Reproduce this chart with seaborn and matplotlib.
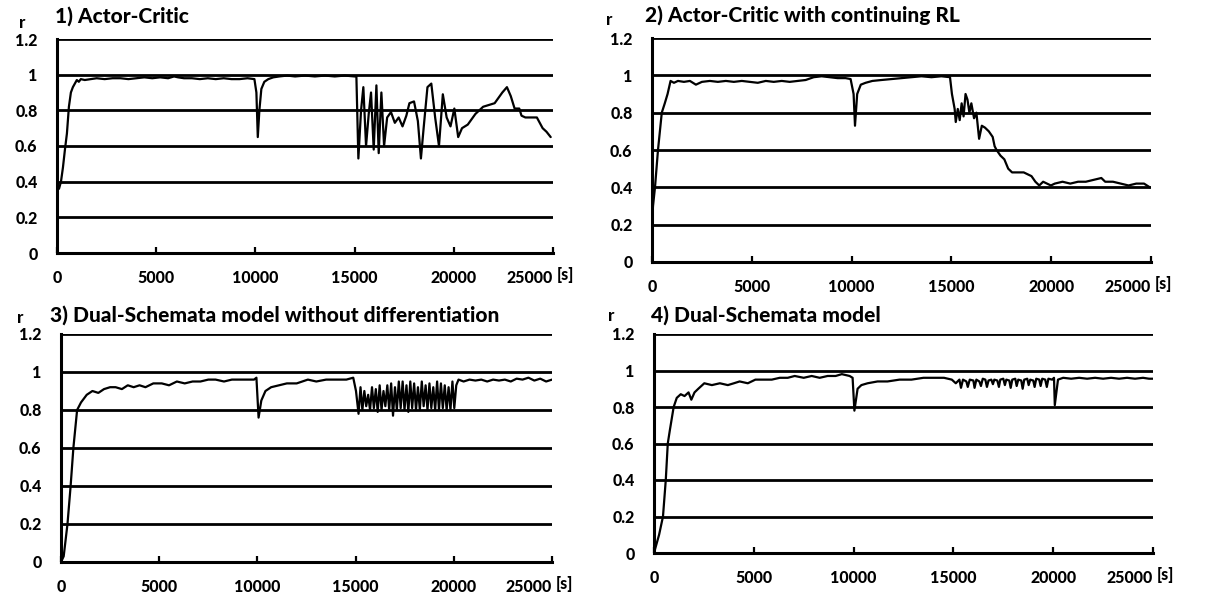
import numpy as np
import pandas as pd
import matplotlib
matplotlib.use("Agg")
import matplotlib.pyplot as plt
import seaborn as sns

# ---------------- data ----------------
titles = ["1) Actor-Critic",
          "2) Actor-Critic with continuing RL",
          "3) Dual-Schemata model without differentiation",
          "4) Dual-Schemata model"]

y_ticks = [0, 0.2, 0.4, 0.6, 0.8, 1.0, 1.2]
y_tick_labels = ["0", "0.2", "0.4", "0.6", "0.8", "1", "1.2"]
x_ticks = [0, 5000, 10000, 15000, 20000, 25000]
x_tick_labels = ["0", "5000", "10000", "15000", "20000", "25000"]

# 1) Actor-Critic
ac_t = [0, 30, 100, 200, 300, 400, 500, 600, 700, 800, 900, 1000, 1100, 1200, 1400,
        1700, 2000, 2400, 2800, 3200, 3600, 4000, 4400, 4800, 5200, 5600, 5900, 6100,
        6400, 6800, 7200, 7600, 8000, 8400, 8800, 9200, 9600, 9950, 10050, 10120, 10200,
        10300, 10450, 10650, 10900, 11200, 11600, 12000, 12500, 13000, 13500, 14000,
        14500, 15000,
        15090, 15190, 15325, 15441, 15577, 15712, 15828, 15963, 16099, 16215, 16350,
        16486, 16641, 16834, 17028, 17221, 17415, 17608, 17763, 17995, 18189, 18343,
        18479, 18672, 18866, 19060, 19253, 19447, 19640, 19834, 20027, 20221, 20414,
        20704, 21091, 21478, 22059, 22446, 22678, 22871, 23065, 23300, 23413, 23607,
        24187, 24477, 24671, 24884]
ac_r = [0.20, 0.38, 0.36, 0.40, 0.48, 0.58, 0.67, 0.82, 0.90, 0.93, 0.95, 0.97, 0.96, 0.975, 0.97,
        0.975, 0.98, 0.975, 0.98, 0.98, 0.975, 0.98, 0.985, 0.98, 0.985, 0.98, 0.99, 0.985,
        0.98, 0.98, 0.975, 0.98, 0.975, 0.98, 0.975, 0.975, 0.98, 0.975, 0.90, 0.65, 0.80,
        0.92, 0.96, 0.975, 0.985, 0.99, 0.995, 0.99, 0.995, 0.99, 0.995, 0.99,
        0.995, 0.99,
        0.99, 0.53, 0.80, 0.93, 0.60, 0.78, 0.90, 0.58, 0.94, 0.56, 0.90,
        0.60, 0.76, 0.79, 0.73, 0.76, 0.71, 0.77, 0.84, 0.85, 0.74, 0.53,
        0.70, 0.93, 0.95, 0.76, 0.60, 0.89, 0.76, 0.71, 0.81, 0.65, 0.70,
        0.72, 0.78, 0.82, 0.84, 0.90, 0.93, 0.88, 0.81, 0.81, 0.77, 0.76,
        0.76, 0.70, 0.68, 0.65]

# 2) Actor-Critic with continuing RL
acc_t = [0, 50, 150, 300, 490, 640, 780, 930, 1100, 1300, 1600, 1900, 2200, 2500, 2900,
         3300, 3700, 4100, 4500, 4900, 5300, 5700, 6100, 6500, 6900, 7300, 7700, 8100,
         8500, 8900, 9300, 9700, 9950, 10100, 10170, 10280, 10460, 10700, 11040, 11500,
         12000, 12500, 13000, 13500, 14000, 14500, 14930,
         15027, 15163, 15218, 15319, 15416, 15513, 15610, 15708, 15805, 15902, 15999,
         16135, 16252, 16388, 16524, 16680, 16874, 17068, 17166, 17263, 17457, 17652,
         17846, 18040, 18332, 18624, 18818, 19012, 19207, 19401, 19596, 19790, 19984,
         20179, 20568, 20956, 21345, 21734, 22123, 22512, 22706, 23095, 23484, 23873,
         24261, 24650, 24942]
acc_r = [0.20, 0.30, 0.40, 0.60, 0.80, 0.85, 0.90, 0.97, 0.96, 0.97, 0.965, 0.97, 0.95, 0.965, 0.97,
         0.965, 0.97, 0.965, 0.97, 0.965, 0.96, 0.97, 0.965, 0.97, 0.965, 0.97, 0.975, 0.99,
         0.995, 0.99, 0.985, 0.985, 0.98, 0.90, 0.73, 0.90, 0.95, 0.96, 0.97, 0.975,
         0.98, 0.985, 0.99, 0.995, 0.99, 0.995, 0.99,
         0.90, 0.82, 0.75, 0.82, 0.76, 0.85, 0.78, 0.90, 0.87, 0.80, 0.85,
         0.77, 0.80, 0.66, 0.73, 0.72, 0.70, 0.67, 0.62, 0.60, 0.57, 0.55,
         0.50, 0.48, 0.48, 0.48, 0.47, 0.46, 0.43, 0.41, 0.43, 0.42, 0.41,
         0.42, 0.43, 0.42, 0.43, 0.43, 0.44, 0.45, 0.43, 0.43, 0.42, 0.41,
         0.42, 0.42, 0.40]

# 3) Dual-Schemata model without differentiation
dsn_t = [0, 137, 330, 490, 630, 820, 1020, 1310, 1600, 1900, 2190, 2500, 2780, 3100, 3400,
         3700, 4000, 4300, 4700, 5130, 5500, 5900, 6300, 6700, 7100, 7500, 7870, 8300,
         8700, 9100, 9500, 9830, 9950, 10060, 10200, 10410, 10700, 11100, 11500, 12000,
         12570, 13000, 13500, 14000, 14530, 14880, 15020,
         15150, 15250, 15345, 15445, 15540, 15640, 15735, 15835, 15930, 16030, 16125,
         16225, 16320, 16420, 16515, 16615, 16710, 16810, 16905, 17005, 17100, 17200,
         17295, 17395, 17490, 17590, 17685, 17785, 17880, 17980, 18075, 18175, 18270,
         18370, 18465, 18565, 18660, 18760, 18855, 18955, 19050, 19150, 19245, 19345,
         19440, 19540, 19635, 19735, 19830, 19930, 20025, 20125,
         20240, 20500, 20800, 21100, 21400, 21700, 22000, 22300, 22600, 22900, 23200,
         23500, 23800, 24100, 24400, 24700, 25000]
dsn_r = [0.0, 0.03, 0.20, 0.40, 0.60, 0.80, 0.84, 0.88, 0.90, 0.89, 0.91, 0.92, 0.92, 0.91, 0.93,
         0.92, 0.93, 0.92, 0.94, 0.94, 0.93, 0.95, 0.94, 0.95, 0.95, 0.96, 0.96, 0.95,
         0.96, 0.96, 0.96, 0.96, 0.97, 0.76, 0.85, 0.90, 0.92, 0.93, 0.94, 0.94,
         0.96, 0.95, 0.96, 0.96, 0.96, 0.97, 0.90,
         0.78, 0.92, 0.80, 0.90, 0.82, 0.88, 0.80, 0.92, 0.81, 0.91, 0.79,
         0.93, 0.80, 0.90, 0.82, 0.93, 0.80, 0.94, 0.77, 0.92, 0.80, 0.95,
         0.81, 0.95, 0.80, 0.93, 0.79, 0.95, 0.81, 0.94, 0.80, 0.92, 0.80,
         0.95, 0.82, 0.93, 0.80, 0.94, 0.81, 0.92, 0.80, 0.95, 0.80, 0.94,
         0.81, 0.93, 0.80, 0.92, 0.80, 0.95, 0.81, 0.93,
         0.96, 0.95, 0.96, 0.955, 0.96, 0.95, 0.96, 0.955, 0.96, 0.95, 0.965,
         0.96, 0.97, 0.955, 0.965, 0.95, 0.96]

# 4) Dual-Schemata model
ds_t = [0, 255, 450, 590, 690, 790, 985, 1140, 1340, 1530, 1730, 1870, 2030, 2220, 2520,
        2900, 3300, 3700, 4000, 4290, 4700, 5080, 5500, 5900, 6300, 6700, 7050, 7500,
        7900, 8300, 8700, 9100, 9410, 9800, 9950, 10040, 10200, 10390, 10700, 11200,
        11700, 12300, 12900, 13500, 14000, 14530, 14920, 15120,
        15300, 15380, 15480, 15650, 15720, 15820, 16000, 16060, 16150, 16300, 16380,
        16470, 16600, 16680, 16760, 16900, 16980, 17050, 17200, 17280, 17350, 17500,
        17580, 17650, 17800, 17870, 17950, 18100, 18170, 18250, 18400, 18470, 18550,
        18700, 18770, 18850, 19000, 19070, 19150, 19300, 19370, 19450, 19600, 19680,
        19760, 19950,
        20040, 20080, 20240, 20500, 20900, 21300, 21700, 22100, 22500, 22900, 23300,
        23700, 24100, 24500, 24800, 25000]
ds_r = [0.0, 0.10, 0.20, 0.40, 0.60, 0.67, 0.80, 0.85, 0.87, 0.86, 0.88, 0.84, 0.88, 0.90, 0.93,
        0.92, 0.93, 0.92, 0.93, 0.94, 0.93, 0.95, 0.95, 0.95, 0.96, 0.96, 0.97, 0.96,
        0.97, 0.96, 0.97, 0.97, 0.98, 0.97, 0.96, 0.78, 0.90, 0.92, 0.93, 0.94,
        0.94, 0.95, 0.95, 0.96, 0.96, 0.96, 0.95, 0.93,
        0.95, 0.905, 0.95, 0.94, 0.91, 0.95, 0.945, 0.905, 0.95, 0.94, 0.915,
        0.955, 0.95, 0.91, 0.945, 0.95, 0.925, 0.95, 0.945, 0.91, 0.95, 0.955,
        0.92, 0.95, 0.945, 0.905, 0.95, 0.955, 0.915, 0.95, 0.945, 0.90, 0.95,
        0.955, 0.92, 0.95, 0.945, 0.91, 0.955, 0.95, 0.915, 0.955, 0.95, 0.91,
        0.955, 0.95,
        0.96, 0.81, 0.95, 0.96, 0.955, 0.96, 0.955, 0.96, 0.955, 0.96, 0.955,
        0.96, 0.955, 0.96, 0.955, 0.955]

series = [(ac_t, ac_r), (acc_t, acc_r), (dsn_t, dsn_r), (ds_t, ds_r)]

# ---------------- styling / layout ----------------
sns.set_theme(style="white")
plt.rcParams["font.family"] = ["Lato", "DejaVu Sans"]

W, H = 1211, 605
fig = plt.figure(figsize=(W / 100, H / 100), dpi=100)
fig.patch.set_facecolor("white")

# axes boxes in pixels: (left, top(=1.2), right(=25000), bottom(=0))
boxes = [(57, 39, 553, 253), (652, 38, 1151, 262), (61, 334, 552, 562), (654, 334, 1153, 553)]
title_pos = [(55, 16), (645, 15), (50, 315), (651, 315)]
r_pos = [(22, 23), (609, 20), (20, 318), (611, 316)]
WEIGHT = "black"

for i, ((l, t, r, b), (xs, ys)) in enumerate(zip(boxes, series)):
    ax = fig.add_axes([l / W, 1 - b / H, (r - l) / W, (b - t) / H])
    df = pd.DataFrame({"t": xs, "r": ys})
    sns.lineplot(data=df, x="t", y="r", ax=ax, color="black", linewidth=1.6,
                 estimator=None, sort=False, zorder=3)
    ax.set_xlim(0, 25000)
    ax.set_ylim(0, 1.2)
    ax.set_yticks(y_ticks)
    ax.set_yticklabels(y_tick_labels)
    ax.set_xticks(x_ticks)
    ax.set_xticklabels(x_tick_labels)
    ax.set_xlabel("")
    ax.set_ylabel("")
    ax.yaxis.grid(True, color="black", linewidth=2.0)
    ax.xaxis.grid(False)
    ax.set_axisbelow(True)
    for s in ["top", "right"]:
        ax.spines[s].set_visible(False)
    for s in ["left", "bottom"]:
        ax.spines[s].set_visible(True)
        ax.spines[s].set_color("black")
        ax.spines[s].set_linewidth(2.2)
    ax.tick_params(axis="y", length=0, pad=14, labelsize=11.5, labelcolor="black")
    ax.tick_params(axis="x", direction="in", length=4, width=1.6, color="black",
                   pad=12, labelsize=11.5, labelcolor="black", bottom=True)
    for lab in ax.get_xticklabels() + ax.get_yticklabels():
        lab.set_fontweight(WEIGHT)
    ax.get_xticklabels()[-1].set_horizontalalignment("right")
    ax.set_facecolor("white")

    tx, ty = title_pos[i]
    fig.text(tx / W, 1 - ty / H, titles[i], fontsize=15, fontweight=WEIGHT,
             ha="left", va="center", color="black")
    rx, ry = r_pos[i]
    fig.text(rx / W, 1 - ry / H, "r", fontsize=12, fontweight=WEIGHT,
             ha="center", va="center", color="black")
    # unit label right after the last x tick label
    fig.text((r + 4) / W, 1 - (b + 22) / H, "[s]", fontsize=11.5, fontweight=WEIGHT,
             ha="left", va="center", color="black")

fig.savefig("out.png", dpi=100, facecolor="white")
